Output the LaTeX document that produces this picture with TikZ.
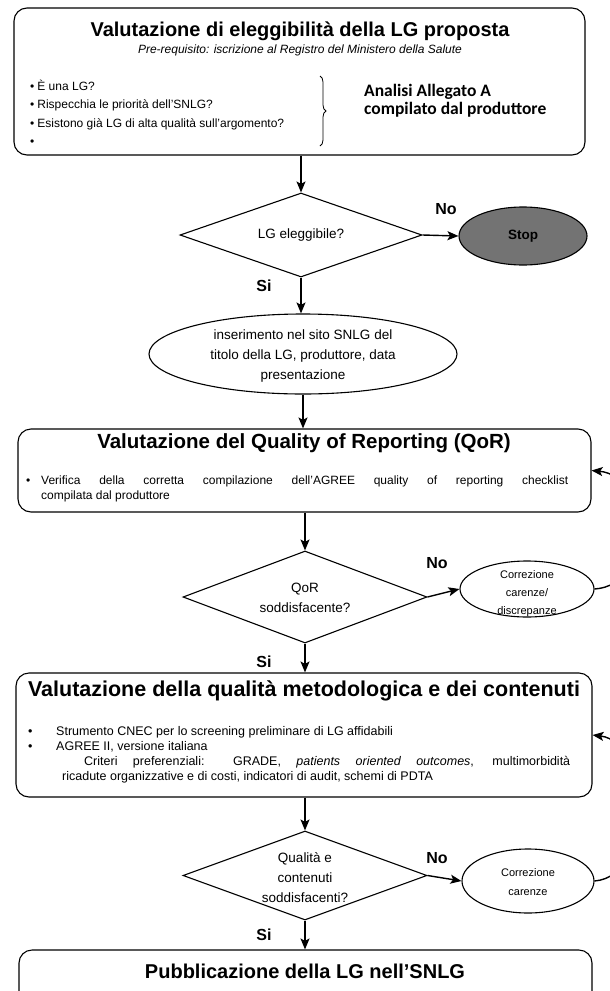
\documentclass[tikz,border=0pt]{standalone}
\usepackage{fontspec}
\setmainfont{Liberation Sans}
\newfontfamily\calib{Carlito}
\usetikzlibrary{shapes.geometric,arrows.meta,decorations.pathreplacing}
\tikzset{
  box/.style={draw, line width=1.1pt, rounded corners=13pt, inner sep=0pt},
  dia/.style={draw, diamond, line width=1.1pt, inner sep=0pt},
  ell/.style={draw, ellipse, line width=1.1pt, inner sep=0pt},
  arr/.style={-{Stealth[length=11pt,width=9pt,inset=2.5pt]}, line width=1.4pt},
  ttl/.style={font=\fontsize{20}{24}\selectfont\bfseries, inner sep=0pt},
  lab/.style={font=\fontsize{16}{18}\selectfont\bfseries, inner sep=0pt},
  txt/.style={font=\fontsize{12}{14}\selectfont, inner sep=0pt, anchor=base west},
  btxt/.style={font=\fontsize{12.5}{15}\selectfont, inner sep=0pt, anchor=base west},
  ctxt/.style={font=\fontsize{13.5}{20}\selectfont, inner sep=0pt, align=center},
  stxt/.style={font=\fontsize{11}{18}\selectfont, inner sep=0pt, align=center},
}
\begin{document}
\begin{tikzpicture}[x=1pt,y=-1pt]
\useasboundingbox (0,0) rectangle (610,991);
\clip (0,0) rectangle (610,991);
% box 1
\node[box, minimum width=571pt, minimum height=147pt] (b1) at (299.5,81.5) {};
\node[ttl] (t1) at (300,31) {Valutazione di eleggibilità della LG proposta};
\node[font=\fontsize{12}{14}\selectfont\itshape, inner sep=0pt] (s1) at (300,50) {Pre-requisito: iscrizione al Registro del Ministero della Salute};
\node[txt] (p1) at (30,90) {\textbullet\hspace{3pt}È una LG?};
\node[txt] (p2) at (30,108.5) {\textbullet\hspace{3pt}Rispecchia le priorità dell'SNLG?};
\node[txt] (p3) at (30,127) {\textbullet\hspace{3pt}Esistono già LG di alta qualità sull'argomento?};
\node[txt] (p4) at (30,145.5) {\textbullet};
\draw[decorate, decoration={brace, amplitude=6pt}, line width=0.8pt] (320,76) -- (320,146);
\node[anchor=west, align=left, inner sep=0pt, font=\calib\bfseries\fontsize{17.5}{18}\selectfont] (an) at (364,101) {Analisi Allegato A\\compilato dal produttore};
% decision 1
\node[dia, minimum width=242pt, minimum height=84pt] (d1) at (301,235) {};
\node[ctxt] (d1t) at (301,235) {LG eleggibile?};
\node[ell, fill=black!55, minimum width=128pt, minimum height=58pt] (stop) at (523,236) {};
\node[font=\fontsize{13.5}{15}\selectfont\bfseries, inner sep=0pt] (stopt) at (523,236) {Stop};
\node[lab] (no1) at (446,209) {No};
\node[lab] (si1) at (264,286) {Si};
% ellipse 1
\node[ell, minimum width=308pt, minimum height=80pt] (e1) at (303,354) {};
\node[ctxt] (e1t) at (303,356) {inserimento nel sito SNLG del\\titolo della LG, produttore, data\\presentazione};
% box 2
\node[box, minimum width=573pt, minimum height=83pt] (b2) at (304.5,470.5) {};
\node[ttl, font=\fontsize{20.5}{24}\selectfont\bfseries] (t2) at (304,443) {Valutazione del Quality of Reporting (QoR)};
\node[txt] (q0) at (26,484) {\textbullet};
\node[txt] (q1) at (41,484) {\makebox[527pt][s]{Verifica della corretta compilazione dell'AGREE quality of reporting checklist}};
\node[txt] (q2) at (41,499) {compilata dal produttore};
% decision 2
\node[dia, minimum width=244pt, minimum height=92pt] (d2) at (305,597) {};
\node[ctxt] (d2t) at (305,598) {QoR\\soddisfacente?};
\node[lab] (no2) at (437,563) {No};
\node[ell, minimum width=134pt, minimum height=56pt] (e3) at (527,589) {};
\node[stxt] (e3t) at (527,594) {Correzione\\carenze/\\discrepanze};
\node[lab] (si2) at (264,662) {Si};
% box 3
\node[box, minimum width=576pt, minimum height=124pt] (b3) at (304,735) {};
\node[ttl, font=\fontsize{21.5}{24}\selectfont\bfseries] (t3) at (304,691) {Valutazione della qualità metodologica e dei contenuti};
\node[btxt] (c0) at (28,735.5) {\textbullet};
\node[btxt] (c1) at (56,735.5) {Strumento CNEC per lo screening preliminare di LG affidabili};
\node[btxt] (c2) at (28,750.5) {\textbullet};
\node[btxt] (c3) at (56,750.5) {AGREE II, versione italiana};
\node[btxt] (c4) at (84,765.5) {\makebox[486pt][s]{Criteri preferenziali: GRADE, \textit{patients oriented outcomes}, multimorbidità}};
\node[btxt] (c5) at (62,780.5) {ricadute organizzative e di costi, indicatori di audit, schemi di PDTA};
% decision 3
\node[dia, minimum width=244pt, minimum height=89pt] (d3) at (305,875.5) {};
\node[ctxt] (d3t) at (305,878) {Qualità e\\contenuti\\soddisfacenti?};
\node[lab] (no3) at (437,858) {No};
\node[ell, minimum width=132pt, minimum height=64pt] (e4) at (528,881) {};
\node[stxt, font=\fontsize{11}{19}\selectfont] (e4t) at (528,882) {Correzione\\carenze};
\node[lab] (si3) at (264,935) {Si};
% box 4
\node[box, minimum width=573pt, minimum height=70pt] (b4) at (305.5,985) {};
\node[ttl] (t4) at (305,971) {Pubblicazione della LG nell'SNLG};
% connectors
\draw[arr] (d1.north |- b1.south) -- (d1.north);
\draw[arr] (d1.east) -- (stop.west);
\draw[arr] (d1.south) -- (d1.south |- e1.north);
\draw[arr] (e1.south) -- (e1.south |- b2.north);
\draw[arr] (b2.south -| d2.north) -- (d2.north);
\draw[arr] (d2.east) -- (e3.west);
\draw[arr] (d2.south) -- (d2.south |- b3.north);
\draw[arr] (b3.south -| d3.north) -- (d3.north);
\draw[arr] (d3.east) -- (e4.west);
\draw[arr] (d3.south) -- (d3.south |- b4.north);
\draw[arr] (e3.east) .. controls (655,585) and (650,476) .. (b2.east);
\draw[arr] (e4.east) .. controls (655,876) and (650,742) .. (b3.east);
\end{tikzpicture}
\end{document}
